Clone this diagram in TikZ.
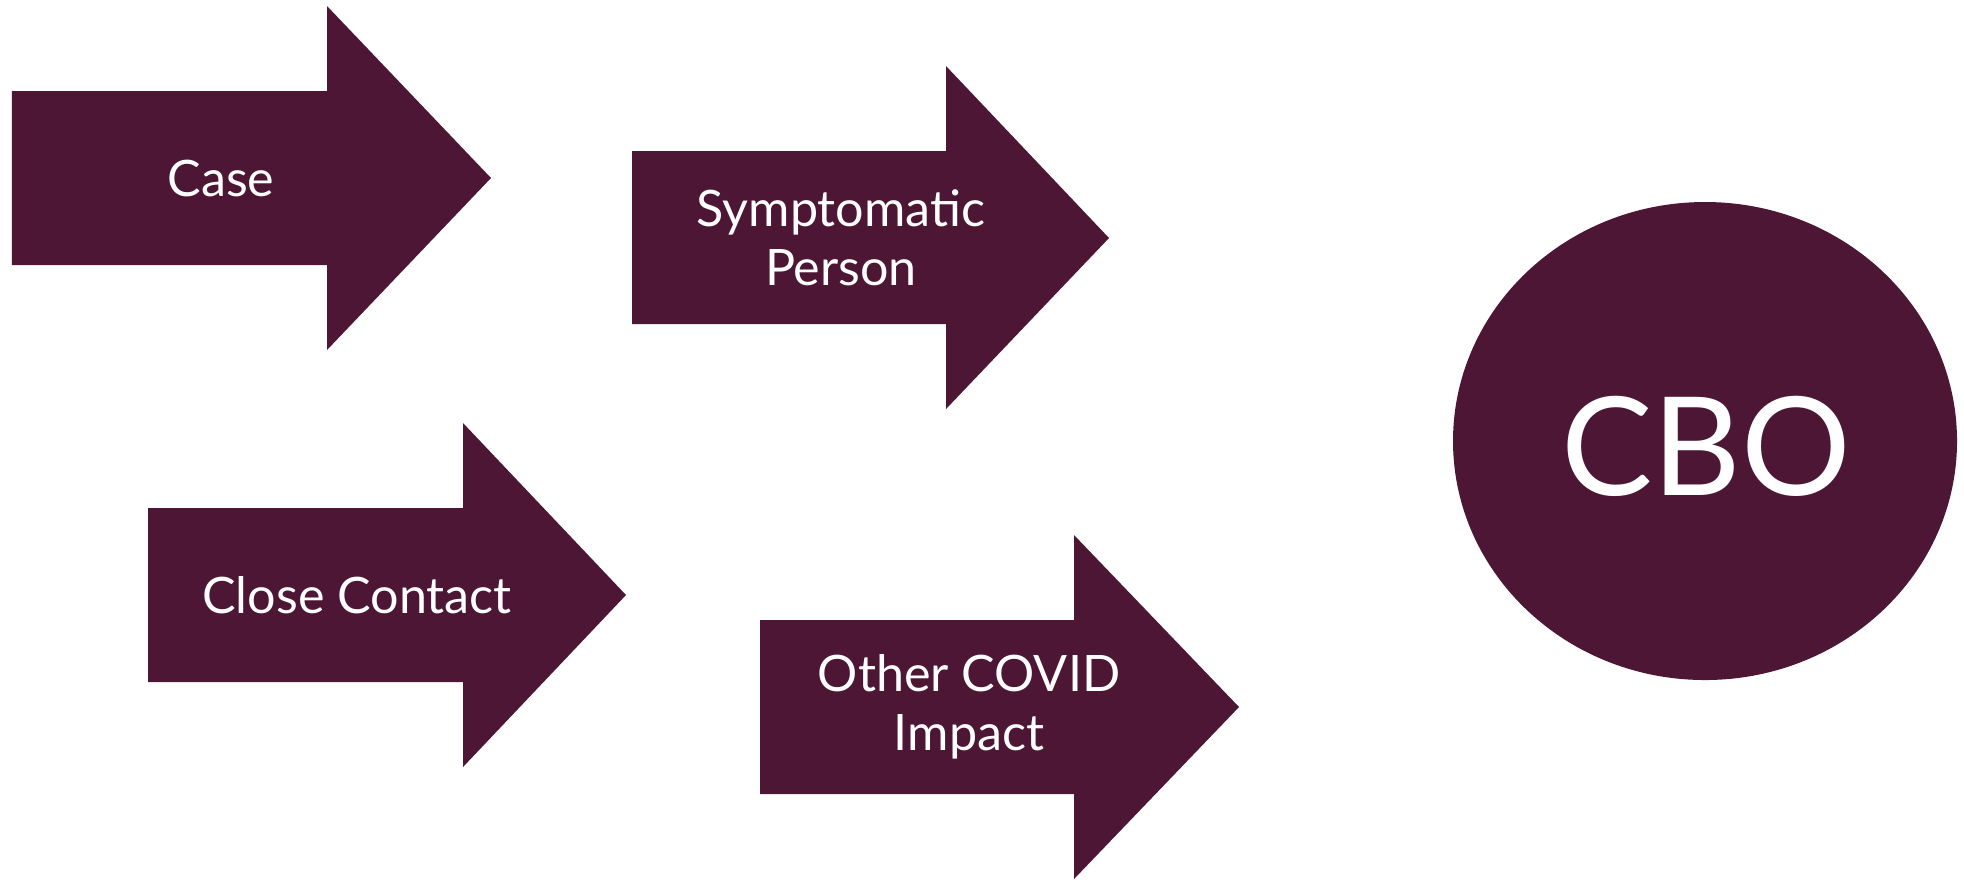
\documentclass[tikz,border=0pt]{standalone}
\usepackage{fontspec}
\setmainfont{Lato}
\usepackage{xcolor}
\definecolor{cbomaroon}{HTML}{4C1634}

\begin{document}
\begin{tikzpicture}[
        arrowfill/.style={fill=cbomaroon},
        arrowlabel/.style={text=white, align=center, font=\fontsize{14.3}{16.8}\selectfont},
    ]
        \useasboundingbox (0,0) rectangle (19.64,-8.79);
        % arrows
        \fill[arrowfill] (0.12,-0.91) -- (3.27,-0.91) -- (3.27,-0.06) -- (4.91,-1.78) -- (3.27,-3.50) -- (3.27,-2.65) -- (0.12,-2.65) -- cycle;
        \fill[arrowfill] (6.32,-1.51) -- (9.46,-1.51) -- (9.46,-0.66) -- (11.09,-2.38) -- (9.46,-4.09) -- (9.46,-3.24) -- (6.32,-3.24) -- cycle;
        \fill[arrowfill] (1.48,-5.08) -- (4.63,-5.08) -- (4.63,-4.23) -- (6.26,-5.95) -- (4.63,-7.67) -- (4.63,-6.82) -- (1.48,-6.82) -- cycle;
        \fill[arrowfill] (7.60,-6.20) -- (10.74,-6.20) -- (10.74,-5.35) -- (12.39,-7.07) -- (10.74,-8.79) -- (10.74,-7.94) -- (7.60,-7.94) -- cycle;
        \node[arrowlabel] (case) at (2.21,-1.78) {Case};
        \node[arrowlabel] (symptomatic) at (8.41,-2.38) {Symptomatic\\Person};
        \node[arrowlabel] (contact) at (3.57,-5.95) {Close Contact};
        \node[arrowlabel] (impact) at (9.69,-7.07) {Other COVID\\Impact};
        % CBO
        \fill[arrowfill] (17.05,-4.41) ellipse (2.52 and 2.39);
        \node[text=white, font=\fontsize{39}{44}\selectfont] (cbo) at (17.06,-4.46) {CBO};
    \end{tikzpicture}
\end{document}
